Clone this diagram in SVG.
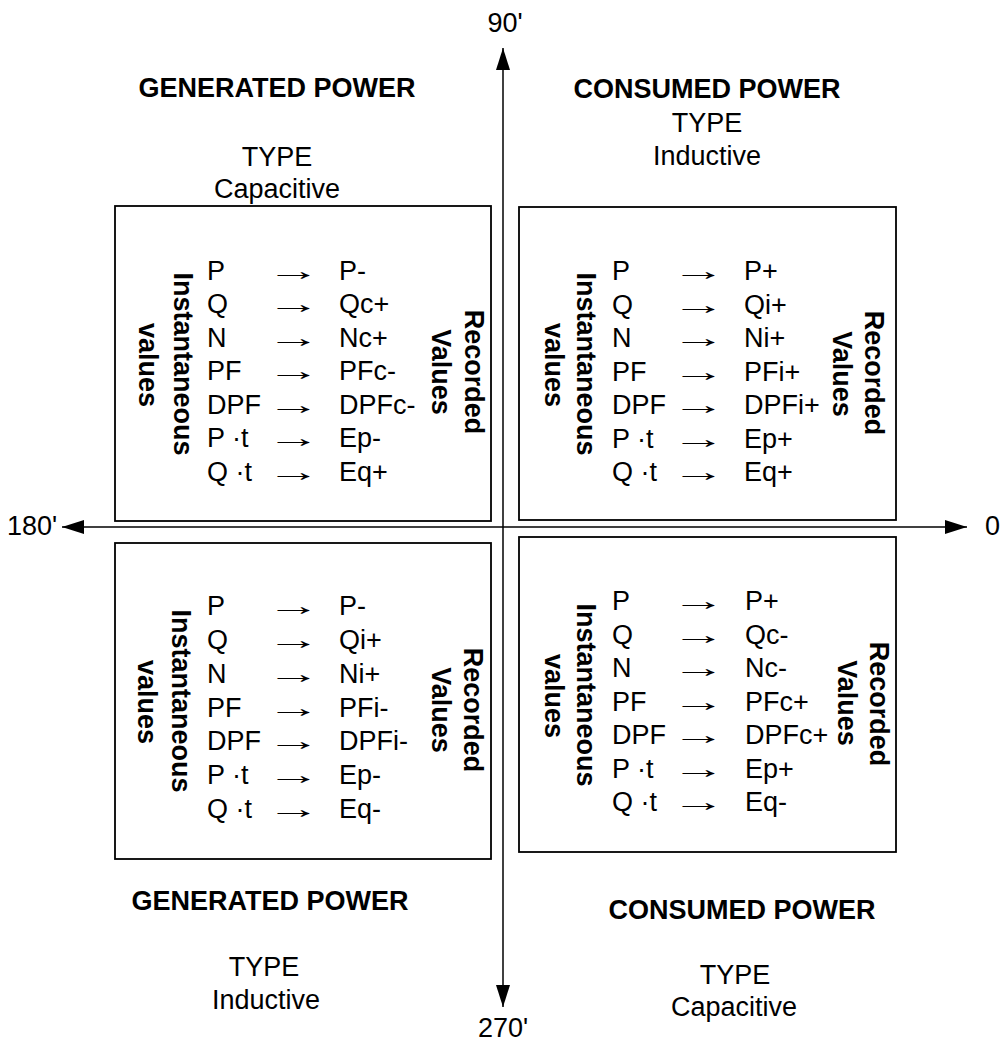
<svg xmlns="http://www.w3.org/2000/svg" width="1001" height="1042" viewBox="0 0 1001 1042">
<style>
text{font-family:"Liberation Sans",Arial,"DejaVu Sans",sans-serif;font-size:27px;fill:#000}
.b{font-weight:bold}
.m{text-anchor:middle}
.box{fill:none;stroke:#000;stroke-width:1.8}
.axis{fill:none;stroke:#000;stroke-width:1.5}
</style>
<defs>
<marker id="ah" viewBox="0 0 22 14" refX="22" refY="7" markerWidth="22" markerHeight="14" markerUnits="userSpaceOnUse" orient="auto">
<path d="M0,0 L22,7 L0,14 Z" fill="#000"/>
</marker>
</defs>
<rect width="1001" height="1042" fill="#fff"/>

<g id="connectors">
<line class="axis" x1="503" y1="527" x2="503" y2="48" marker-end="url(#ah)"/>
<line class="axis" x1="503" y1="527" x2="503" y2="1007" marker-end="url(#ah)"/>
<line class="axis" x1="503" y1="527" x2="62" y2="527" marker-end="url(#ah)"/>
<line class="axis" x1="503" y1="527" x2="967" y2="527" marker-end="url(#ah)"/>
</g>

<g id="axis-labels">
<text class="m" x="505" y="32">90'</text>
<text x="7" y="535">180'</text>
<text x="985" y="535">0</text>
<text class="m" x="503" y="1037">270'</text>
</g>

<g id="quadrant-labels">
<text class="b m" x="277" y="97">GENERATED POWER</text>
<text class="m" x="277" y="166">TYPE</text>
<text class="m" x="277" y="198">Capacitive</text>
<text class="b m" x="707" y="98">CONSUMED POWER</text>
<text class="m" x="707" y="132">TYPE</text>
<text class="m" x="707" y="165">Inductive</text>
<text class="b m" x="270" y="910">GENERATED POWER</text>
<text class="m" x="264" y="976">TYPE</text>
<text class="m" x="266" y="1009">Inductive</text>
<text class="b m" x="742" y="919">CONSUMED POWER</text>
<text class="m" x="735" y="984">TYPE</text>
<text class="m" x="734" y="1016">Capacitive</text>
</g>

<g id="box-tl">
<rect class="box" x="115" y="206" width="376" height="315"/>
<text class="b m" transform="translate(174,364) rotate(90)">Instantaneous</text>
<text class="b m" transform="translate(139,365) rotate(90)">values</text>
<text class="b m" transform="translate(465,372) rotate(90)">Recorded</text>
<text class="b m" transform="translate(432,372) rotate(90)">Values</text>
<text x="207" y="279.5">P</text><text x="266" y="279.5" textLength="54" lengthAdjust="spacingAndGlyphs">→</text><text x="339" y="279.5">P-</text>
<text x="207" y="313">Q</text><text x="266" y="313" textLength="54" lengthAdjust="spacingAndGlyphs">→</text><text x="339" y="313">Qc+</text>
<text x="207" y="346.5">N</text><text x="266" y="346.5" textLength="54" lengthAdjust="spacingAndGlyphs">→</text><text x="339" y="346.5">Nc+</text>
<text x="207" y="380">PF</text><text x="266" y="380" textLength="54" lengthAdjust="spacingAndGlyphs">→</text><text x="339" y="380">PFc-</text>
<text x="207" y="413.5">DPF</text><text x="266" y="413.5" textLength="54" lengthAdjust="spacingAndGlyphs">→</text><text x="339" y="413.5">DPFc-</text>
<text x="207" y="447">P ·t</text><text x="266" y="447" textLength="54" lengthAdjust="spacingAndGlyphs">→</text><text x="339" y="447">Ep-</text>
<text x="207" y="480.5">Q ·t</text><text x="266" y="480.5" textLength="54" lengthAdjust="spacingAndGlyphs">→</text><text x="339" y="480.5">Eq+</text>
</g>

<g id="box-tr">
<rect class="box" x="519" y="207" width="377" height="313"/>
<text class="b m" transform="translate(577,364) rotate(90)">Instantaneous</text>
<text class="b m" transform="translate(545,365) rotate(90)">values</text>
<text class="b m" transform="translate(865,373) rotate(90)">Recorded</text>
<text class="b m" transform="translate(833,374) rotate(90)">Values</text>
<text x="612" y="280">P</text><text x="671" y="280" textLength="54" lengthAdjust="spacingAndGlyphs">→</text><text x="744" y="280">P+</text>
<text x="612" y="313.5">Q</text><text x="671" y="313.5" textLength="54" lengthAdjust="spacingAndGlyphs">→</text><text x="744" y="313.5">Qi+</text>
<text x="612" y="347">N</text><text x="671" y="347" textLength="54" lengthAdjust="spacingAndGlyphs">→</text><text x="744" y="347">Ni+</text>
<text x="612" y="380.5">PF</text><text x="671" y="380.5" textLength="54" lengthAdjust="spacingAndGlyphs">→</text><text x="744" y="380.5">PFi+</text>
<text x="612" y="414">DPF</text><text x="671" y="414" textLength="54" lengthAdjust="spacingAndGlyphs">→</text><text x="744" y="414">DPFi+</text>
<text x="612" y="447.5">P ·t</text><text x="671" y="447.5" textLength="54" lengthAdjust="spacingAndGlyphs">→</text><text x="744" y="447.5">Ep+</text>
<text x="612" y="481">Q ·t</text><text x="671" y="481" textLength="54" lengthAdjust="spacingAndGlyphs">→</text><text x="744" y="481">Eq+</text>
</g>

<g id="box-bl">
<rect class="box" x="115" y="543" width="376" height="316"/>
<text class="b m" transform="translate(172,701) rotate(90)">Instantaneous</text>
<text class="b m" transform="translate(138,702) rotate(90)">values</text>
<text class="b m" transform="translate(464,710) rotate(90)">Recorded</text>
<text class="b m" transform="translate(432,710) rotate(90)">Values</text>
<text x="207" y="615">P</text><text x="266" y="615" textLength="54" lengthAdjust="spacingAndGlyphs">→</text><text x="339" y="615">P-</text>
<text x="207" y="649">Q</text><text x="266" y="649" textLength="54" lengthAdjust="spacingAndGlyphs">→</text><text x="339" y="649">Qi+</text>
<text x="207" y="683">N</text><text x="266" y="683" textLength="54" lengthAdjust="spacingAndGlyphs">→</text><text x="339" y="683">Ni+</text>
<text x="207" y="716.5">PF</text><text x="266" y="716.5" textLength="54" lengthAdjust="spacingAndGlyphs">→</text><text x="339" y="716.5">PFi-</text>
<text x="207" y="750">DPF</text><text x="266" y="750" textLength="54" lengthAdjust="spacingAndGlyphs">→</text><text x="339" y="750">DPFi-</text>
<text x="207" y="784">P ·t</text><text x="266" y="784" textLength="54" lengthAdjust="spacingAndGlyphs">→</text><text x="339" y="784">Ep-</text>
<text x="207" y="818">Q ·t</text><text x="266" y="818" textLength="54" lengthAdjust="spacingAndGlyphs">→</text><text x="339" y="818">Eq-</text>
</g>

<g id="box-br">
<rect class="box" x="519" y="537" width="377" height="315"/>
<text class="b m" transform="translate(577,695) rotate(90)">Instantaneous</text>
<text class="b m" transform="translate(545,696) rotate(90)">values</text>
<text class="b m" transform="translate(870,704) rotate(90)">Recorded</text>
<text class="b m" transform="translate(838,703) rotate(90)">Values</text>
<text x="612" y="610">P</text><text x="671" y="610" textLength="54" lengthAdjust="spacingAndGlyphs">→</text><text x="745" y="610">P+</text>
<text x="612" y="643.5">Q</text><text x="671" y="643.5" textLength="54" lengthAdjust="spacingAndGlyphs">→</text><text x="745" y="643.5">Qc-</text>
<text x="612" y="677">N</text><text x="671" y="677" textLength="54" lengthAdjust="spacingAndGlyphs">→</text><text x="745" y="677">Nc-</text>
<text x="612" y="710.5">PF</text><text x="671" y="710.5" textLength="54" lengthAdjust="spacingAndGlyphs">→</text><text x="745" y="710.5">PFc+</text>
<text x="612" y="744">DPF</text><text x="671" y="744" textLength="54" lengthAdjust="spacingAndGlyphs">→</text><text x="745" y="744">DPFc+</text>
<text x="612" y="777.5">P ·t</text><text x="671" y="777.5" textLength="54" lengthAdjust="spacingAndGlyphs">→</text><text x="745" y="777.5">Ep+</text>
<text x="612" y="811">Q ·t</text><text x="671" y="811" textLength="54" lengthAdjust="spacingAndGlyphs">→</text><text x="745" y="811">Eq-</text>
</g>
</svg>
